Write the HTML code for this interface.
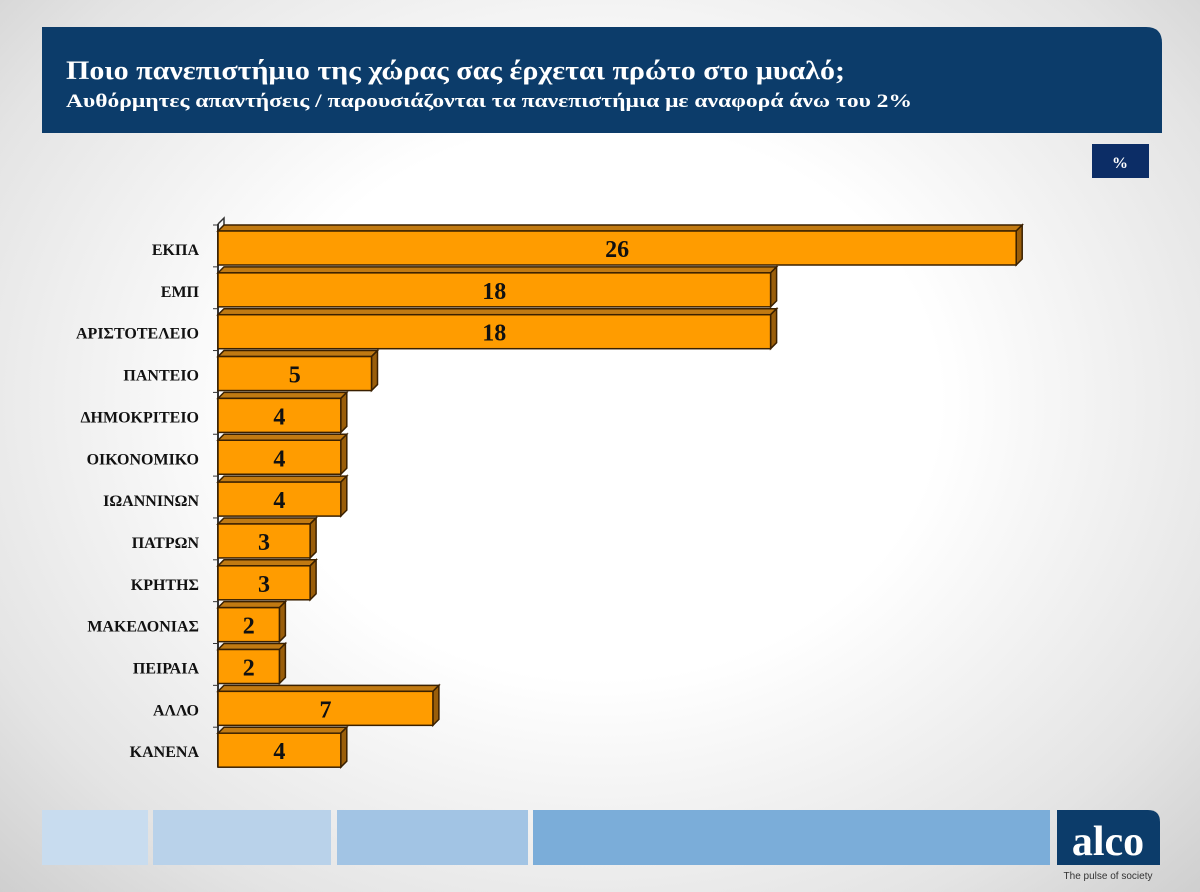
<!DOCTYPE html>
<html><head><meta charset="utf-8"><style>
body{margin:0;width:1200px;height:892px;overflow:hidden;background:radial-gradient(ellipse at 50% 45%,#ffffff 40%,#e4e4e4 80%,#cfcfcf 100%);font-family:"Liberation Serif",serif}
</style></head><body>
<svg width="1200" height="892" xmlns="http://www.w3.org/2000/svg" style="position:absolute;left:0;top:0">
<path d="M42 27 H1146 Q1162 27 1162 43 V133 H42 Z" fill="#0c3c6a"/>
<text x="66" y="79" font-family="Liberation Serif" font-weight="bold" font-size="26" fill="#fff" textLength="779" lengthAdjust="spacingAndGlyphs">Ποιο πανεπιστήμιο της χώρας σας έρχεται πρώτο στο μυαλό;</text>
<text x="66" y="107" font-family="Liberation Serif" font-weight="bold" font-size="19" fill="#fff" textLength="846" lengthAdjust="spacingAndGlyphs">Αυθόρμητες απαντήσεις  / παρουσιάζονται τα πανεπιστήμια με αναφορά άνω του 2%</text>
<rect x="1092" y="144" width="57" height="34" fill="#0c2d66"/>
<text x="1120" y="168" text-anchor="middle" font-family="Liberation Serif" font-weight="bold" font-size="16" fill="#fff">%</text>
<line x1="218" y1="224" x2="218" y2="767" stroke="#333" stroke-width="2"/>
<path d="M218 224 L224 218 L224 228" fill="none" stroke="#333" stroke-width="1.5"/>
<g id="bars" font-family="Liberation Serif" font-weight="bold">
</g>
<rect x="42" y="810" width="106" height="55" fill="#c8dcef"/>
<rect x="153" y="810" width="178" height="55" fill="#b9d2ea"/>
<rect x="337" y="810" width="191" height="55" fill="#a2c4e4"/>
<rect x="533" y="810" width="517" height="55" fill="#7badd9"/>
<path d="M1057 810 H1148 Q1160 810 1160 822 V865 H1057 Z" fill="#0c3c6a"/>
<text x="1108" y="855" text-anchor="middle" font-family="Liberation Serif" font-weight="bold" font-size="42" fill="#fff">alco</text>
<text x="1108" y="879" text-anchor="middle" font-family="Liberation Sans" font-size="10" fill="#333">The pulse of society</text>
</svg>
<script>
var d=[["ΕΚΠΑ",26],["ΕΜΠ",18],["ΑΡΙΣΤΟΤΕΛΕΙΟ",18],["ΠΑΝΤΕΙΟ",5],["ΔΗΜΟΚΡΙΤΕΙΟ",4],["ΟΙΚΟΝΟΜΙΚΟ",4],["ΙΩΑΝΝΙΝΩΝ",4],["ΠΑΤΡΩΝ",3],["ΚΡΗΤΗΣ",3],["ΜΑΚΕΔΟΝΙΑΣ",2],["ΠΕΙΡΑΙΑ",2],["ΑΛΛΟ",7],["ΚΑΝΕΝΑ",4]];
var g=document.getElementById("bars"),s="";
d.forEach(function(r,i){var y=231+i*41.85,w=r[1]*30.7,x2=218+w;
s+='<path d="M218 '+y+' L224 '+(y-6)+' L'+(x2+6)+' '+(y-6)+' L'+x2+' '+y+' Z" fill="#c17a12" stroke="#3a2000" stroke-width="1.5"/>';
s+='<path d="M'+x2+' '+y+' L'+(x2+6)+' '+(y-6)+' L'+(x2+6)+' '+(y+28)+' L'+x2+' '+(y+34)+' Z" fill="#9a5e0a" stroke="#3a2000" stroke-width="1.5"/>';
s+='<rect x="218" y="'+y+'" width="'+w+'" height="34" fill="#ff9c00" stroke="#3a2000" stroke-width="1.5"/>';
s+='<text x="'+(218+w/2)+'" y="'+(y+26)+'" text-anchor="middle" font-size="24" fill="#111">'+r[1]+'</text>';
s+='<text x="199" y="'+(y+24)+'" text-anchor="end" font-size="16" fill="#111">'+r[0]+'</text>';
s+='<line x1="213" y1="'+(y-6)+'" x2="218" y2="'+(y-6)+'" stroke="#333"/>';});
g.innerHTML=s;
</script>
</body></html>
